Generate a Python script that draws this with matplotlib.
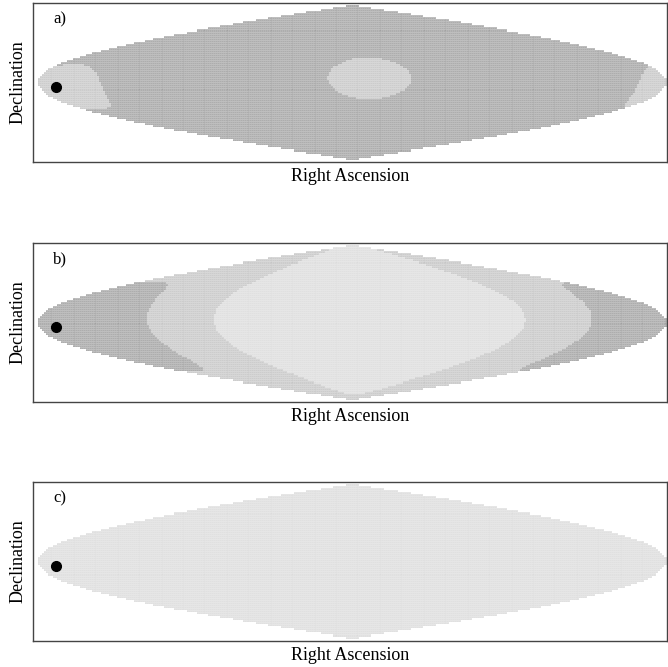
import numpy as np
import matplotlib
matplotlib.use('Agg')
import matplotlib.pyplot as plt
from matplotlib.colors import ListedColormap, BoundaryNorm

plt.rcParams['font.family'] = ['Liberation Serif', 'DejaVu Serif']

# source position on the sky (degrees)
source_ra = -170.0
source_dec = -5.0

panel_labels = ['a)', 'b)', 'c)']

# angular separation from the source (deg) -> shade level
# 0 = dark, 1 = mid, 2 = light
sep_edges_a = [0, 26, 156, 180]
levels_a = [1, 0, 1]
sep_edges_b = [0, 53, 91, 180]
levels_b = [0, 1, 2]
sep_edges_c = [0, 180]
levels_c = [2]

shade_colors = ['#a2a2a2', '#c6c6c6', '#dcdcdc']

x_label = 'Right Ascension'
y_label = 'Declination'


def sky_grid(nx=300, ny=76):
    # sinusoidal projection: x = ra*cos(dec), y = dec
    xe = np.linspace(-np.pi, np.pi, nx + 1)
    ye = np.linspace(-np.pi / 2, np.pi / 2, ny + 1)
    xc = 0.5 * (xe[1:] + xe[:-1])
    yc = 0.5 * (ye[1:] + ye[:-1])
    X, Y = np.meshgrid(xc, yc)
    dec = Y
    ra = X / np.cos(dec)
    outside = np.abs(ra) > np.pi
    return xe, ye, ra, dec, outside


def separation(ra, dec, ra0, dec0):
    c = (np.sin(dec) * np.sin(dec0) +
         np.cos(dec) * np.cos(dec0) * np.cos(ra - ra0))
    return np.degrees(np.arccos(np.clip(c, -1, 1)))


xe, ye, ra, dec, outside = sky_grid()
sep = separation(ra, dec, np.radians(source_ra), np.radians(source_dec))

cmap = ListedColormap(shade_colors)
norm = BoundaryNorm([-0.5, 0.5, 1.5, 2.5], cmap.N)

fig = plt.figure(figsize=(6.68, 6.67), dpi=100)
bottoms = [0.757, 0.397, 0.039]
panels = [(sep_edges_a, levels_a), (sep_edges_b, levels_b),
          (sep_edges_c, levels_c)]

for k, (edges, levels) in enumerate(panels):
    ax = fig.add_axes([0.0494, bottoms[k], 0.949, 0.239])
    idx = np.clip(np.digitize(sep, edges[1:-1]), 0, len(levels) - 1)
    shade = np.array(levels)[idx].astype(float)
    shade = np.ma.masked_where(outside, shade)
    ax.pcolormesh(xe, ye, shade, cmap=cmap, norm=norm,
                  edgecolors=(1, 1, 1, 0.12), linewidth=0.25)

    # source marker, projected
    sx = np.radians(source_ra) * np.cos(np.radians(source_dec))
    sy = np.radians(source_dec)
    ax.plot(sx, sy, 'o', color='black', markersize=7)

    ax.set_xlim(-3.19, 3.145)
    ax.set_ylim(-1.62, 1.62)
    ax.set_xticks([])
    ax.set_yticks([])
    for s in ax.spines.values():
        s.set_color('#444444')
        s.set_linewidth(1.0)
    ax.set_xlabel(x_label, fontsize=13, labelpad=4)
    ax.set_ylabel(y_label, fontsize=13, labelpad=5)
    ax.text(0.032, 0.945, panel_labels[k], transform=ax.transAxes,
            fontsize=12, ha='left', va='top')

fig.savefig('out.png', dpi=100)
